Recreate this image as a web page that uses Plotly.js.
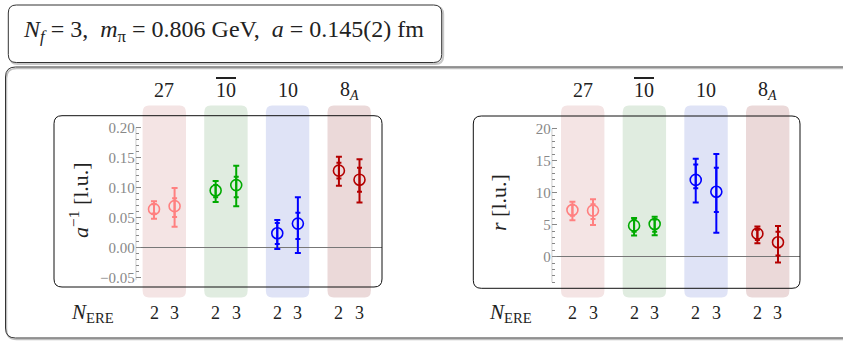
<!DOCTYPE html>
<html><head><meta charset="utf-8">
<script src="https://cdn.plot.ly/plotly-3.0.1.min.js"></script>
<style>html,body{margin:0;padding:0;background:#fff}#chart{width:843px;height:341px}</style>
</head><body><div id="chart"></div>
<script>
// ---------------- data ----------------
const irreps = ['27', '10bar', '10', '8A'];
const irrepLabels = ['27', '<span style="text-decoration:overline">10</span>', '10', '8<sub><i>A</i></sub>'];
const irrepColors = ['#ff8080', '#00aa00', '#0000ff', '#b40000'];
const bandColors = ['#f4e4e4', '#e0ece0', '#dfe3f6', '#ebd9d9'];
const nEre = [2, 3];

// inverse scattering length a^{-1} [l.u.]; each row = irrep, columns = N_ERE 2, 3
const aInvCentral = [[0.064, 0.069], [0.095, 0.104], [0.024, 0.040], [0.128, 0.113]];
const aInvInnerLo = [[0.057, 0.051], [0.084, 0.084], [0.006, 0.0145], [0.115, 0.093]];
const aInvInnerHi = [[0.072, 0.082], [0.104, 0.118], [0.041, 0.058], [0.141, 0.133]];
const aInvOuterLo = [[0.048, 0.035], [0.076, 0.069], [-0.002, -0.009], [0.103, 0.075]];
const aInvOuterHi = [[0.077, 0.099], [0.111, 0.136], [0.046, 0.084], [0.151, 0.147]];

// effective range r [l.u.]
const rCentral = [[7.3, 7.2], [4.85, 5.1], [12.0, 10.15], [3.6, 2.25]];
const rInnerLo = [[6.4, 5.9], [3.9, 3.9], [10.7, 7.0], [2.6, 0.2]];
const rInnerHi = [[8.1, 8.2], [5.75, 5.8], [14.4, 13.9], [4.2, 3.9]];
const rOuterLo = [[5.7, 4.95], [3.3, 3.35], [8.45, 3.75], [2.1, -0.9]];
const rOuterHi = [[8.6, 8.97], [6.05, 6.25], [15.3, 16.05], [4.7, 4.8]];

const aInvTicks = [-0.05, 0, 0.05, 0.10, 0.15, 0.20];
const rTicks = [0, 5, 10, 15, 20];

// ---------------- layout helpers ----------------
const W = 843, H = 341;
const PX = p => p / W;
const PY = p => 1 - p / H;
const FONT = 'Liberation Serif';

function rrPath(x0, y0, x1, y1, rx, ry) {
  return `M ${x0 + rx},${y0} L ${x1 - rx},${y0} Q ${x1},${y0} ${x1},${y0 + ry} ` +
         `L ${x1},${y1 - ry} Q ${x1},${y1} ${x1 - rx},${y1} L ${x0 + rx},${y1} ` +
         `Q ${x0},${y1} ${x0},${y1 - ry} L ${x0},${y0 + ry} Q ${x0},${y0} ${x0 + rx},${y0} Z`;
}
function pxBox(l, t, r, b, rad) {
  return rrPath(PX(l), PY(b), PX(r), PY(t), rad / W, rad / H);
}

const offset = 0.167;
const bandHalf = 0.352;
const panels = [
  { xa: 'x', ya: 'y', central: aInvCentral, iLo: aInvInnerLo, iHi: aInvInnerHi, oLo: aInvOuterLo, oHi: aInvOuterHi,
    box: [54, 115.7, 382, 287], axisMin: -0.054, axisMax: 0.20, xr: [-0.464, 3.532] },
  { xa: 'x2', ya: 'y2', central: rCentral, iLo: rInnerLo, iHi: rInnerHi, oLo: rOuterLo, oHi: rOuterHi,
    box: [473.3, 116, 800, 288.3], axisMin: -4, axisMax: 20, xr: [-0.503, 3.524] }
];

const traces = [];
panels.forEach(p => {
  irreps.forEach((ir, i) => {
    const xs = nEre.map((n, k) => i + (k === 0 ? -offset : offset));
    const ys = p.central[i];
    traces.push({
      type: 'scatter', mode: 'markers', xaxis: p.xa, yaxis: p.ya, x: xs, y: ys,
      marker: { symbol: 'circle-open', size: 11, color: irrepColors[i], line: { width: 1.6 } },
      error_y: { type: 'data', symmetric: false,
        array: ys.map((v, k) => p.oHi[i][k] - v), arrayminus: ys.map((v, k) => v - p.oLo[i][k]),
        color: irrepColors[i], thickness: 2, width: 3 },
      hoverinfo: 'skip', showlegend: false
    });
    traces.push({
      type: 'scatter', mode: 'markers', xaxis: p.xa, yaxis: p.ya, x: xs, y: ys,
      marker: { size: 1, color: 'rgba(0,0,0,0)' },
      error_y: { type: 'data', symmetric: false,
        array: ys.map((v, k) => p.iHi[i][k] - v), arrayminus: ys.map((v, k) => v - p.iLo[i][k]),
        color: irrepColors[i], thickness: 2, width: 2.5 },
      hoverinfo: 'skip', showlegend: false
    });
  });
});

const shapes = [];
shapes.push({ type: 'path', xref: 'paper', yref: 'paper', path: pxBox(9.8, 6.5, 443.2, 64, 8), line: { color: '#c8c8c8', width: 2 }, layer: 'below' });
shapes.push({ type: 'path', xref: 'paper', yref: 'paper', path: pxBox(8.3, 5, 441.7, 62.5, 8), fillcolor: '#fff', line: { color: '#333', width: 1 }, layer: 'below' });
shapes.push({ type: 'path', xref: 'paper', yref: 'paper', path: pxBox(6.5, 68.5, 860, 339.5, 10), line: { color: '#c0c0c0', width: 1.5 }, layer: 'below' });
shapes.push({ type: 'path', xref: 'paper', yref: 'paper', path: pxBox(5.5, 67, 860, 338, 10), line: { color: '#333', width: 1 }, layer: 'below' });

panels.forEach(p => {
  irreps.forEach((ir, i) => {
    shapes.push({ type: 'path', xref: p.xa, yref: 'paper',
      path: rrPath(i - bandHalf, PY(297.5), i + bandHalf, PY(105.5), 0.1, 7 / H),
      fillcolor: bandColors[i], line: { width: 0 }, layer: 'below' });
  });
  shapes.push({ type: 'path', xref: 'paper', yref: 'paper', path: pxBox(p.box[0], p.box[1], p.box[2], p.box[3], 8),
    line: { color: '#111', width: 1 }, layer: 'above' });
  shapes.push({ type: 'line', xref: p.xa, yref: p.ya, x0: p.xr[0], x1: p.xr[0], y0: p.axisMin, y1: p.axisMax,
    line: { color: '#888', width: 1 }, layer: 'between' });
});

const annotations = [];
panels.forEach(p => {
  irreps.forEach((ir, i) => {
    annotations.push({ xref: p.xa, yref: 'paper', x: i, y: PY(90), text: irrepLabels[i], showarrow: false,
      xanchor: 'center', yanchor: 'middle', font: { family: FONT, size: 20, color: '#222' } });
    nEre.forEach((n, k) => {
      annotations.push({ xref: p.xa, yref: 'paper', x: i + (k === 0 ? -offset : offset), y: PY(313), text: String(n),
        showarrow: false, xanchor: 'center', yanchor: 'middle', font: { family: FONT, size: 18, color: '#222' } });
    });
  });
});
annotations.push({ xref: 'paper', yref: 'paper', x: PX(92), y: PY(313), text: '<i>N</i><sub>ERE</sub>', showarrow: false,
  xanchor: 'center', yanchor: 'middle', font: { family: FONT, size: 21, color: '#222' } });
annotations.push({ xref: 'paper', yref: 'paper', x: PX(510), y: PY(313), text: '<i>N</i><sub>ERE</sub>', showarrow: false,
  xanchor: 'center', yanchor: 'middle', font: { family: FONT, size: 21, color: '#222' } });
annotations.push({ xref: 'paper', yref: 'paper', x: PX(79), y: PY(200), text: '<i>a</i><sup>−1</sup> [l.u.]', showarrow: false,
  textangle: -90, xanchor: 'center', yanchor: 'middle', font: { family: FONT, size: 22, color: '#222' } });
annotations.push({ xref: 'paper', yref: 'paper', x: PX(498), y: PY(203), text: '<i>r</i> [l.u.]', showarrow: false,
  textangle: -90, xanchor: 'center', yanchor: 'middle', font: { family: FONT, size: 22, color: '#222' } });
annotations.push({ xref: 'paper', yref: 'paper', x: PX(224), y: PY(31), showarrow: false, xanchor: 'center', yanchor: 'middle',
  text: '<i>N</i><sub><i>f</i></sub> = 3,  <i>m</i><sub>π</sub> = 0.806 GeV,  <i>a</i> = 0.145(2) fm',
  font: { family: FONT, size: 24, color: '#222' } });

function minorVals(lo, hi, step, major) {
  const out = [];
  for (let v = Math.ceil(lo / step - 1e-9) * step; v <= hi + 1e-9; v += step) {
    const r = Math.round(v / step) * step;
    if (!major.some(m => Math.abs(m - r) < step / 10)) out.push(+r.toFixed(4));
  }
  return out;
}

const xBase = { showgrid: false, zeroline: false, showline: false, showticklabels: false, ticks: '', fixedrange: true };
const yBase = { showgrid: false, showline: false, ticks: 'inside', ticklen: 5, tickwidth: 1, tickcolor: '#888',
  tickfont: { family: FONT, size: 15, color: '#888' }, zeroline: true, zerolinecolor: '#777', zerolinewidth: 1, fixedrange: true };

const layout = {
  width: W, height: H, margin: { l: 0, r: 0, t: 0, b: 0 },
  font: { family: FONT },
  paper_bgcolor: '#fff', plot_bgcolor: 'rgba(0,0,0,0)', showlegend: false,
  xaxis: Object.assign({}, xBase, { domain: [PX(135.7), PX(382)], range: panels[0].xr, anchor: 'y' }),
  yaxis: Object.assign({}, yBase, { domain: [PY(287), PY(115.7)], range: [-0.0653, 0.2193], anchor: 'x',
    tickmode: 'array', tickvals: aInvTicks, ticktext: aInvTicks.map(v => (v < 0 ? '−' : '') + Math.abs(v).toFixed(2)),
    minor: { tickmode: 'array', tickvals: minorVals(-0.054, 0.2, 0.01, aInvTicks), ticks: 'inside', ticklen: 3, tickcolor: '#888', tickwidth: 1 } }),
  xaxis2: Object.assign({}, xBase, { domain: [PX(551.7), PX(800)], range: panels[1].xr, anchor: 'y2' }),
  yaxis2: Object.assign({}, yBase, { domain: [PY(288.3), PY(116)], range: [-4.94, 21.98], anchor: 'x2',
    tickmode: 'array', tickvals: rTicks, ticktext: rTicks.map(String),
    minor: { tickmode: 'array', tickvals: minorVals(-4, 20, 1, rTicks), ticks: 'inside', ticklen: 3, tickcolor: '#888', tickwidth: 1 } }),
  shapes: shapes, annotations: annotations
};

Plotly.newPlot('chart', traces, layout, { staticPlot: true, displayModeBar: false });
</script>
</body></html>
